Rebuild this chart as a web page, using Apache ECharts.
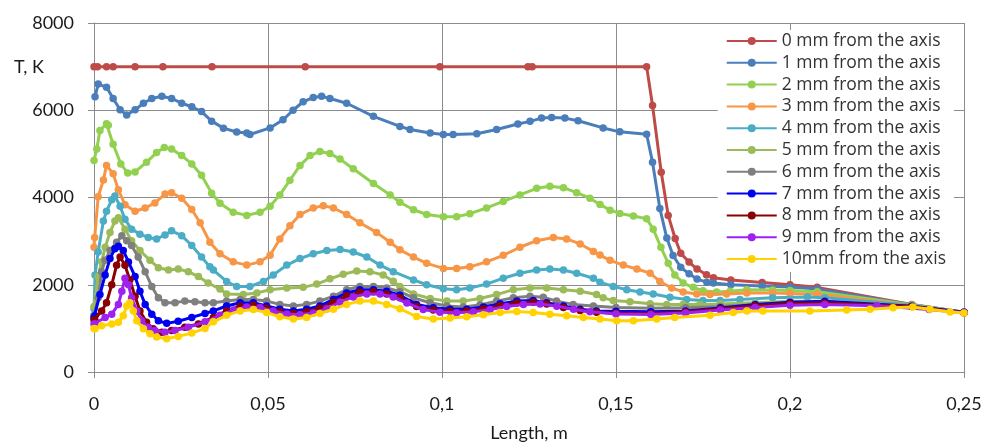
<!DOCTYPE html>
<html>
<head>
<meta charset="utf-8">
<script src="https://cdn.jsdelivr.net/npm/echarts@6/dist/echarts.min.js"></script>
<style>
  html, body { margin: 0; padding: 0; background: #fff; }
  #chart { width: 987px; height: 447px; }
</style>
</head>
<body>
<div id="chart"></div>
<script>
// series names, colours and [length, temperature] points
const names = [
  '0 mm from the axis', '1 mm from the axis', '2 mm from the axis', '3 mm from the axis',
  '4 mm from the axis', '5 mm from the axis', '6 mm from the axis', '7 mm from the axis',
  '8 mm from the axis', '9 mm from the axis', '10mm from the axis'
]
const colors = ['#BE4B48', '#4A7EBB', '#92D050', '#F79646', '#4BACC6', '#9BBB59',
  '#7F7F7F', '#0000F0', '#8B0000', '#A020F0', '#FFD200']

const xTicks = [0, 0.05, 0.1, 0.15, 0.2, 0.25]
const yTicks = [0, 2000, 4000, 6000, 8000]

const mm0 = [[0,7000],[0.001,7000],[0.0036,7000],[0.0055,7000],[0.0118,7000],[0.0198,7000],[0.0339,7000],[0.0607,7000],[0.0994,7000],[0.1247,7000],[0.1259,7000],[0.1588,7000],[0.1605,6110],[0.163,4580],[0.165,3590],[0.167,3060],[0.1686,2720],[0.171,2520],[0.1733,2360],[0.176,2230],[0.178,2160],[0.183,2110],[0.192,2050],[0.2,2000],[0.2078,1940],[0.235,1550],[0.25,1370]]
const mm1 = [[0.0003,6310],[0.0012,6600],[0.0036,6530],[0.0055,6270],[0.0075,6010],[0.0094,5890],[0.0118,6010],[0.0142,6160],[0.0166,6270],[0.0195,6320],[0.0223,6270],[0.0252,6160],[0.0281,6080],[0.0309,5970],[0.0338,5750],[0.0372,5590],[0.041,5500],[0.0439,5480],[0.0448,5445],[0.0506,5595],[0.0543,5780],[0.0572,6000],[0.0601,6195],[0.063,6290],[0.0654,6320],[0.0678,6270],[0.0726,6160],[0.0803,5860],[0.0879,5630],[0.0908,5560],[0.0966,5480],[0.1004,5445],[0.1032,5445],[0.11,5460],[0.1157,5560],[0.1218,5685],[0.1253,5745],[0.1286,5820],[0.1315,5835],[0.1353,5820],[0.1391,5760],[0.1463,5595],[0.1511,5505],[0.1588,5450],[0.1605,4810],[0.1626,3750],[0.1646,3070],[0.1664,2670],[0.1686,2400],[0.171,2250],[0.1733,2130],[0.1761,2060],[0.178,2040],[0.183,2000],[0.192,1970],[0.2,1950],[0.2078,1900],[0.235,1540],[0.25,1370]]
const mm2 = [[0,4850],[0.0008,5110],[0.0017,5535],[0.0036,5690],[0.0041,5655],[0.0055,5220],[0.0077,4770],[0.0097,4560],[0.0118,4585],[0.0151,4810],[0.018,5030],[0.0202,5146],[0.0223,5110],[0.0252,4960],[0.0281,4770],[0.0309,4510],[0.0338,4100],[0.0362,3870],[0.04,3660],[0.0439,3590],[0.0477,3660],[0.0506,3800],[0.0534,4060],[0.0563,4395],[0.0592,4735],[0.0621,4960],[0.0649,5056],[0.0678,5010],[0.0707,4880],[0.0745,4660],[0.0803,4320],[0.0851,4060],[0.0879,3890],[0.0918,3720],[0.0956,3610],[0.1004,3560],[0.1042,3560],[0.108,3630],[0.1128,3760],[0.1176,3910],[0.1224,4060],[0.1272,4210],[0.131,4260],[0.1349,4225],[0.1387,4110],[0.1425,3985],[0.1454,3840],[0.1483,3710],[0.1511,3635],[0.155,3575],[0.1588,3515],[0.1607,3275],[0.1629,2860],[0.165,2490],[0.1669,2225],[0.1693,2040],[0.1722,1940],[0.175,1865],[0.1789,1836],[0.1828,1850],[0.1876,1887],[0.195,1880],[0.2,1870],[0.2078,1840],[0.235,1540],[0.25,1370]]
const mm3 = [[0,2860],[0.0002,3085],[0.0012,4020],[0.0027,4400],[0.0036,4735],[0.0055,4545],[0.007,4175],[0.0089,3835],[0.0118,3685],[0.0147,3760],[0.0175,3875],[0.0204,4080],[0.0223,4110],[0.0252,3985],[0.0281,3725],[0.0305,3420],[0.0333,2975],[0.0362,2710],[0.04,2525],[0.0439,2450],[0.0477,2525],[0.0506,2675],[0.0534,3050],[0.0563,3350],[0.0592,3610],[0.063,3760],[0.0659,3813],[0.0688,3760],[0.0726,3610],[0.0764,3420],[0.0812,3200],[0.0851,2975],[0.0879,2800],[0.0918,2636],[0.0956,2490],[0.1004,2375],[0.1042,2375],[0.108,2410],[0.1128,2525],[0.1176,2675],[0.1224,2860],[0.1272,3010],[0.132,3085],[0.1358,3050],[0.1397,2935],[0.1435,2765],[0.1454,2680],[0.1483,2560],[0.1521,2450],[0.156,2360],[0.1598,2265],[0.1626,2075],[0.166,1925],[0.1693,1836],[0.1732,1790],[0.177,1775],[0.1818,1790],[0.1876,1813],[0.195,1810],[0.2,1800],[0.2078,1780],[0.235,1530],[0.25,1370]]
const mm4 = [[0,1450],[0.0003,2225],[0.0012,2750],[0.0027,3460],[0.0036,3685],[0.0051,3947],[0.006,4037],[0.0075,3800],[0.0089,3500],[0.0108,3275],[0.0132,3160],[0.0156,3085],[0.018,3050],[0.0204,3140],[0.0223,3235],[0.0252,3125],[0.0281,2900],[0.0309,2636],[0.0333,2410],[0.0343,2337],[0.0381,2075],[0.041,1960],[0.0448,1960],[0.0487,2075],[0.0515,2225],[0.0554,2450],[0.0592,2600],[0.063,2710],[0.0669,2786],[0.0707,2810],[0.0745,2750],[0.0784,2636],[0.0822,2450],[0.086,2300],[0.0918,2110],[0.0956,2000],[0.1004,1910],[0.1042,1887],[0.108,1925],[0.1128,2015],[0.1176,2150],[0.1224,2263],[0.1272,2337],[0.131,2360],[0.1349,2337],[0.1387,2263],[0.1435,2150],[0.1454,2060],[0.1492,1962],[0.1531,1887],[0.1569,1836],[0.1607,1790],[0.1655,1715],[0.1703,1663],[0.175,1640],[0.1799,1640],[0.1856,1663],[0.195,1700],[0.205,1720],[0.21,1700],[0.235,1530],[0.25,1370]]
const mm5 = [[0,1500],[0.0012,2190],[0.0022,2525],[0.0032,2860],[0.0046,3200],[0.006,3460],[0.007,3535],[0.0089,3275],[0.0108,3010],[0.0132,2786],[0.0161,2560],[0.0185,2390],[0.0214,2337],[0.0242,2360],[0.0271,2300],[0.03,2187],[0.0328,2040],[0.0362,1900],[0.0381,1790],[0.0429,1775],[0.0468,1813],[0.0506,1887],[0.0554,1925],[0.0601,1940],[0.064,2015],[0.0678,2135],[0.0716,2240],[0.0755,2314],[0.0793,2300],[0.0831,2225],[0.086,2080],[0.0879,1960],[0.0918,1790],[0.0966,1685],[0.1014,1625],[0.1061,1625],[0.1109,1685],[0.1157,1775],[0.1205,1887],[0.1253,1925],[0.1301,1925],[0.1349,1887],[0.1397,1850],[0.1444,1775],[0.1463,1700],[0.1492,1640],[0.154,1610],[0.1598,1565],[0.1646,1550],[0.1693,1550],[0.1741,1550],[0.18,1560],[0.19,1590],[0.2,1620],[0.21,1620],[0.235,1520],[0.25,1370]]
const mm6 = [[0,1300],[0.0012,1700],[0.0022,2300],[0.0032,2560],[0.0046,2786],[0.0065,2973],[0.008,3123],[0.0094,3010],[0.0108,2900],[0.0127,2636],[0.0147,2300],[0.0166,1960],[0.0185,1700],[0.0204,1590],[0.0233,1590],[0.0261,1625],[0.029,1610],[0.0319,1590],[0.0343,1588],[0.0381,1625],[0.042,1663],[0.0458,1663],[0.0496,1625],[0.0534,1550],[0.0573,1513],[0.0611,1550],[0.0649,1625],[0.0688,1737],[0.0726,1887],[0.0764,1962],[0.0803,1962],[0.0841,1925],[0.0879,1840],[0.0918,1700],[0.0966,1588],[0.1014,1513],[0.1061,1490],[0.1109,1535],[0.1157,1625],[0.1205,1700],[0.1253,1737],[0.1291,1715],[0.1329,1625],[0.1377,1550],[0.1435,1513],[0.15,1480],[0.16,1460],[0.17,1470],[0.18,1500],[0.19,1540],[0.2,1580],[0.21,1600],[0.235,1510],[0.25,1370]]
const mm7 = [[0,1250],[0.0003,1290],[0.0017,1775],[0.0032,2225],[0.0046,2600],[0.006,2824],[0.007,2883],[0.0084,2786],[0.0099,2524],[0.0118,2187],[0.0132,1850],[0.0147,1550],[0.0166,1326],[0.0185,1175],[0.0209,1115],[0.0242,1162],[0.0281,1251],[0.0319,1341],[0.0343,1400],[0.0381,1513],[0.042,1588],[0.0458,1588],[0.0496,1513],[0.0534,1438],[0.0573,1400],[0.0611,1438],[0.0649,1513],[0.0688,1663],[0.0726,1813],[0.0764,1887],[0.0803,1887],[0.0841,1850],[0.0879,1760],[0.0927,1550],[0.0975,1475],[0.1023,1438],[0.1071,1438],[0.1119,1490],[0.1167,1565],[0.1215,1625],[0.1262,1640],[0.1301,1588],[0.1349,1513],[0.1397,1438],[0.1444,1400],[0.15,1390],[0.16,1380],[0.17,1400],[0.18,1470],[0.19,1550],[0.2,1600],[0.21,1620],[0.235,1510],[0.25,1370]]
const mm8 = [[0,1200],[0.0003,1175],[0.0022,1400],[0.0036,1588],[0.0051,2000],[0.0065,2449],[0.0075,2636],[0.0089,2449],[0.0103,2112],[0.0118,1737],[0.0132,1400],[0.0151,1138],[0.017,990],[0.0195,914],[0.0223,951],[0.0261,1026],[0.03,1101],[0.0343,1250],[0.0381,1400],[0.042,1510],[0.0458,1530],[0.0496,1460],[0.0534,1380],[0.0573,1340],[0.0611,1380],[0.0649,1460],[0.0688,1600],[0.0726,1740],[0.0764,1830],[0.0803,1840],[0.0841,1790],[0.0879,1700],[0.0927,1500],[0.0975,1420],[0.1023,1390],[0.1071,1400],[0.1119,1450],[0.1167,1520],[0.1215,1580],[0.1262,1600],[0.1301,1560],[0.1349,1480],[0.1397,1410],[0.1444,1370],[0.15,1350],[0.16,1340],[0.17,1380],[0.18,1450],[0.19,1520],[0.2,1570],[0.21,1590],[0.235,1500],[0.25,1360]]
const mm9 = [[0,1100],[0.0003,1101],[0.0032,1251],[0.0051,1326],[0.007,1550],[0.008,1850],[0.0089,2150],[0.0099,2000],[0.0108,1700],[0.0123,1400],[0.0137,1175],[0.0156,1026],[0.0175,951],[0.0204,914],[0.0233,951],[0.0271,1026],[0.0319,1150],[0.0362,1300],[0.0401,1420],[0.0439,1490],[0.0477,1480],[0.0515,1400],[0.0554,1330],[0.0592,1310],[0.063,1350],[0.0669,1450],[0.0707,1600],[0.0745,1720],[0.0784,1790],[0.0822,1790],[0.086,1720],[0.0899,1580],[0.0946,1430],[0.0994,1370],[0.1042,1360],[0.109,1380],[0.1138,1430],[0.1186,1500],[0.1234,1550],[0.1282,1560],[0.133,1510],[0.1378,1440],[0.1425,1380],[0.15,1330],[0.16,1320],[0.17,1350],[0.18,1420],[0.19,1480],[0.2,1530],[0.21,1550],[0.225,1520],[0.24,1430],[0.25,1360]]
const mm10 = [[0,1000],[0.0003,989],[0.0022,1063],[0.0051,1101],[0.007,1138],[0.0084,1288],[0.0094,1513],[0.0103,1588],[0.0113,1400],[0.0123,1175],[0.0142,989],[0.0161,876],[0.018,800],[0.0209,764],[0.0242,816],[0.0281,892],[0.0319,1000],[0.0343,1150],[0.0381,1300],[0.042,1400],[0.0458,1430],[0.0496,1364],[0.0534,1265],[0.0573,1213],[0.0611,1251],[0.0649,1341],[0.0688,1438],[0.0726,1550],[0.0764,1625],[0.0803,1625],[0.0841,1550],[0.0879,1450],[0.0927,1270],[0.0975,1213],[0.1023,1236],[0.1071,1265],[0.1119,1310],[0.1167,1364],[0.1215,1386],[0.1262,1364],[0.131,1326],[0.1358,1288],[0.1406,1251],[0.1454,1213],[0.1502,1175],[0.155,1175],[0.1617,1213],[0.1669,1251],[0.177,1300],[0.1837,1364],[0.1876,1400],[0.1922,1400],[0.2057,1400],[0.2163,1422],[0.223,1438],[0.2296,1475],[0.2353,1490],[0.2402,1438],[0.246,1377],[0.25,1350]]

const allData = [mm0, mm1, mm2, mm3, mm4, mm5, mm6, mm7, mm8, mm9, mm10]

const chart = echarts.init(document.getElementById('chart'))

const gridColor = '#8c8c8c'
const labelFont = "Lato, 'Open Sans', sans-serif"

const option = {
  animation: false,
  backgroundColor: '#fff',
  grid: { left: 94, right: 23, top: 23, bottom: 68 },
  xAxis: {
    type: 'value',
    min: xTicks[0],
    max: xTicks[xTicks.length - 1],
    interval: 0.05,
    name: 'Length, m',
    nameLocation: 'middle',
    nameGap: 52,
    nameTextStyle: { fontSize: 18, color: '#1a1a1a', fontFamily: labelFont },
    axisLine: { lineStyle: { color: gridColor, width: 1 } },
    axisTick: { show: true, length: 6, lineStyle: { color: gridColor } },
    splitLine: { show: true, lineStyle: { color: gridColor, width: 1 } },
    axisLabel: {
      fontSize: 18, color: '#1a1a1a', fontFamily: labelFont, margin: 23,
      formatter: v => String(Math.round(v * 100) / 100).replace('.', ',')
    }
  },
  yAxis: {
    type: 'value',
    min: yTicks[0],
    max: yTicks[yTicks.length - 1],
    interval: 2000,
    axisLine: { show: true, lineStyle: { color: gridColor, width: 1 } },
    axisTick: { show: true, length: 6, lineStyle: { color: gridColor } },
    splitLine: { show: true, lineStyle: { color: gridColor, width: 1 } },
    axisLabel: { fontSize: 18, color: '#1a1a1a', fontFamily: labelFont, margin: 20, formatter: v => String(v) }
  },
  legend: {
    orient: 'vertical',
    right: 33,
    top: 30,
    backgroundColor: '#fff',
    padding: [2, 8, 4, 8],
    itemWidth: 50,
    itemHeight: 10,
    itemGap: 3.8,
    textStyle: { fontSize: 17.5, color: '#333', fontFamily: "'Open Sans', sans-serif", lineHeight: 18 },
    data: names
  },
  graphic: [{
    type: 'text',
    left: 14,
    top: 58,
    style: { text: 'T, K', fontSize: 18, fill: '#1a1a1a', fontFamily: labelFont }
  }],
  series: allData.map((d, i) => ({
    name: names[i],
    type: 'line',
    data: d,
    color: colors[i],
    symbol: 'circle',
    symbolSize: 7.5,
    showSymbol: true,
    lineStyle: { width: 3 },
    z: 2 + i
  }))
}

chart.setOption(option)
</script>
</body>
</html>
